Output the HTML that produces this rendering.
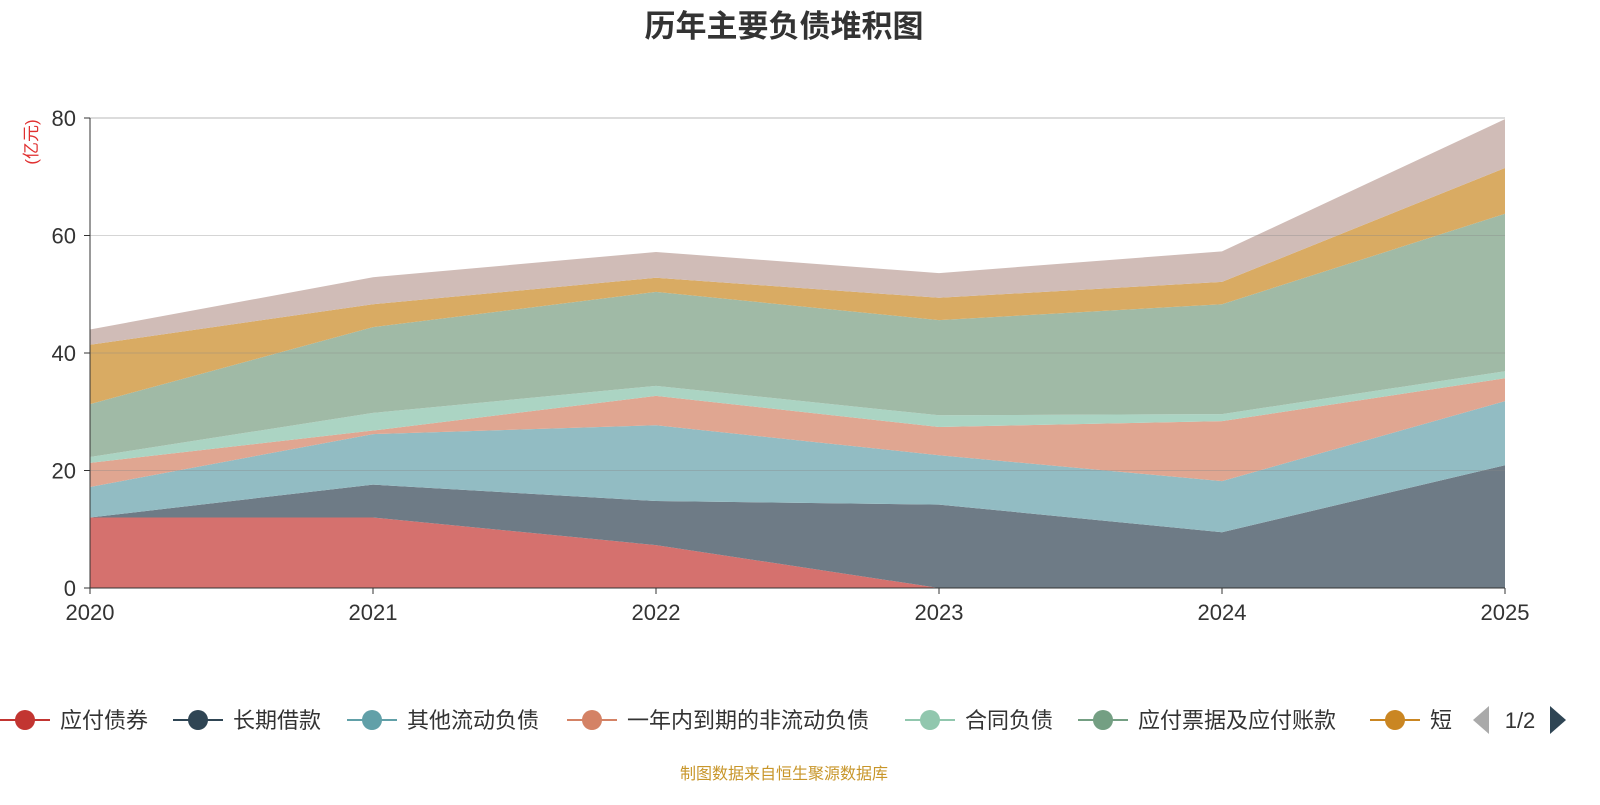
<!DOCTYPE html>
<html><head><meta charset="utf-8"><style>
body{margin:0;background:#fff;font-family:"Liberation Sans","Noto Sans CJK SC",sans-serif}
</style></head><body>
<svg width="1600" height="800" xmlns="http://www.w3.org/2000/svg" font-family="Liberation Sans, Noto Sans CJK SC, sans-serif">
<text x="784" y="37" text-anchor="middle" font-size="31" font-weight="bold" fill="#333">历年主要负债堆积图</text>
<text transform="translate(37,142) rotate(-90)" text-anchor="middle" font-size="17" fill="#e03030">(亿元)</text>
<g id="plot"></g>
<g id="legend"></g>
<text x="784" y="779" text-anchor="middle" font-size="16" fill="#c8962a">制图数据来自恒生聚源数据库</text>
</svg>
<script>
const years=['2020','2021','2022','2023','2024','2025'];
const seriesNames=['应付债券','长期借款','其他流动负债','一年内到期的非流动负债','合同负债','应付票据及应付账款','短期借款','其他'];
const s1=[12,12,7.3,0,0,0];
const s2=[0,5.6,7.5,14.2,9.5,20.9];
const s3=[5.2,8.6,12.9,8.4,8.7,10.9];
const s4=[4.1,0.6,5.0,4.8,10.2,3.9];
const s5=[1.0,3.0,1.7,2.0,1.2,1.2];
const s6=[9.0,14.6,16.0,16.2,18.7,26.8];
const s7=[10.1,3.9,2.4,3.8,3.8,7.8];
const s8=[2.6,4.6,4.4,4.2,5.2,8.3];
const yTicks=[0,20,40,60,80];
const series=[s1,s2,s3,s4,s5,s6,s7,s8];
const fills=['#d5716e','#6e7b86','#92bcc3','#e0a691','#abd4c3','#a0baa6','#d9ab63','#d0bcb7'];
const icons=['#c23531','#2f4554','#61a0a8','#d48265','#91c7ae','#749f83','#ca8622','#bda29a'];
const NS='http://www.w3.org/2000/svg';
const X0=90,X1=1505,Y0=588,Y1=118;
const xs=i=>X0+(X1-X0)*i/(years.length-1);
const ys=v=>Y0-(Y0-Y1)*v/80;
const plot=document.getElementById('plot');
function mk(t,a,p){const e=document.createElementNS(NS,t);for(const k in a)e.setAttribute(k,a[k]);(p||plot).appendChild(e);return e;}
let base=years.map(()=>0);
series.forEach((s,k)=>{
  const top=base.map((b,i)=>b+s[i]);
  let d='M'+top.map((v,i)=>xs(i)+','+ys(v)).join(' L');
  for(let i=years.length-1;i>=0;i--)d+=' L'+xs(i)+','+ys(base[i]);
  const p=mk('path',{d:d+'Z',fill:fills[k],stroke:'none'});
  
  
  base=top;
});
yTicks.forEach(v=>{
  if(v>0){const l=mk('line',{x1:X0,x2:X1,y1:ys(v),y2:ys(v),stroke:'#888','stroke-opacity':v==80?0.6:0.35});
  
  }
  const t=mk('text',{x:X0-14,y:ys(v)+8,'text-anchor':'end','font-size':22,fill:'#333'});t.textContent=v;
  
  
  mk('line',{x1:X0-6,x2:X0,y1:ys(v),y2:ys(v),stroke:'#333'});
});
mk('line',{x1:X0,x2:X0,y1:Y1,y2:Y0,stroke:'#333'});
mk('line',{x1:X0,x2:X1,y1:Y0,y2:Y0,stroke:'#333'});
years.forEach((y,i)=>{
  mk('line',{x1:xs(i),x2:xs(i),y1:Y0,y2:Y0+6,stroke:'#333'});
  const t=mk('text',{x:xs(i),y:Y0+32,'text-anchor':'middle','font-size':22,fill:'#333'});t.textContent=y;
  
  
});
const lg=document.getElementById('legend');
const lx=[25,198,372,592,930,1103,1395];
for(let k=0;k<7;k++){
  const g=mk('g',{},lg);
  
  
  mk('line',{x1:lx[k]-25,x2:lx[k]+25,y1:720,y2:720,stroke:icons[k],'stroke-width':2},g);
  mk('circle',{cx:lx[k],cy:720,r:10,fill:icons[k]},g);
  const t=mk('text',{x:lx[k]+35,y:728,'font-size':22,fill:'#333'},g);t.textContent=k==6?'短':seriesNames[k];
}
mk('path',{d:'M1473,720 L1489,706 L1489,734Z',fill:'#aaa'},lg);
const pt=mk('text',{x:1520,y:728,'text-anchor':'middle','font-size':22,fill:'#333'},lg);pt.textContent='1/2';
mk('path',{d:'M1566,720 L1550,706 L1550,734Z',fill:'#2f4554'},lg);
</script>
</body></html>
